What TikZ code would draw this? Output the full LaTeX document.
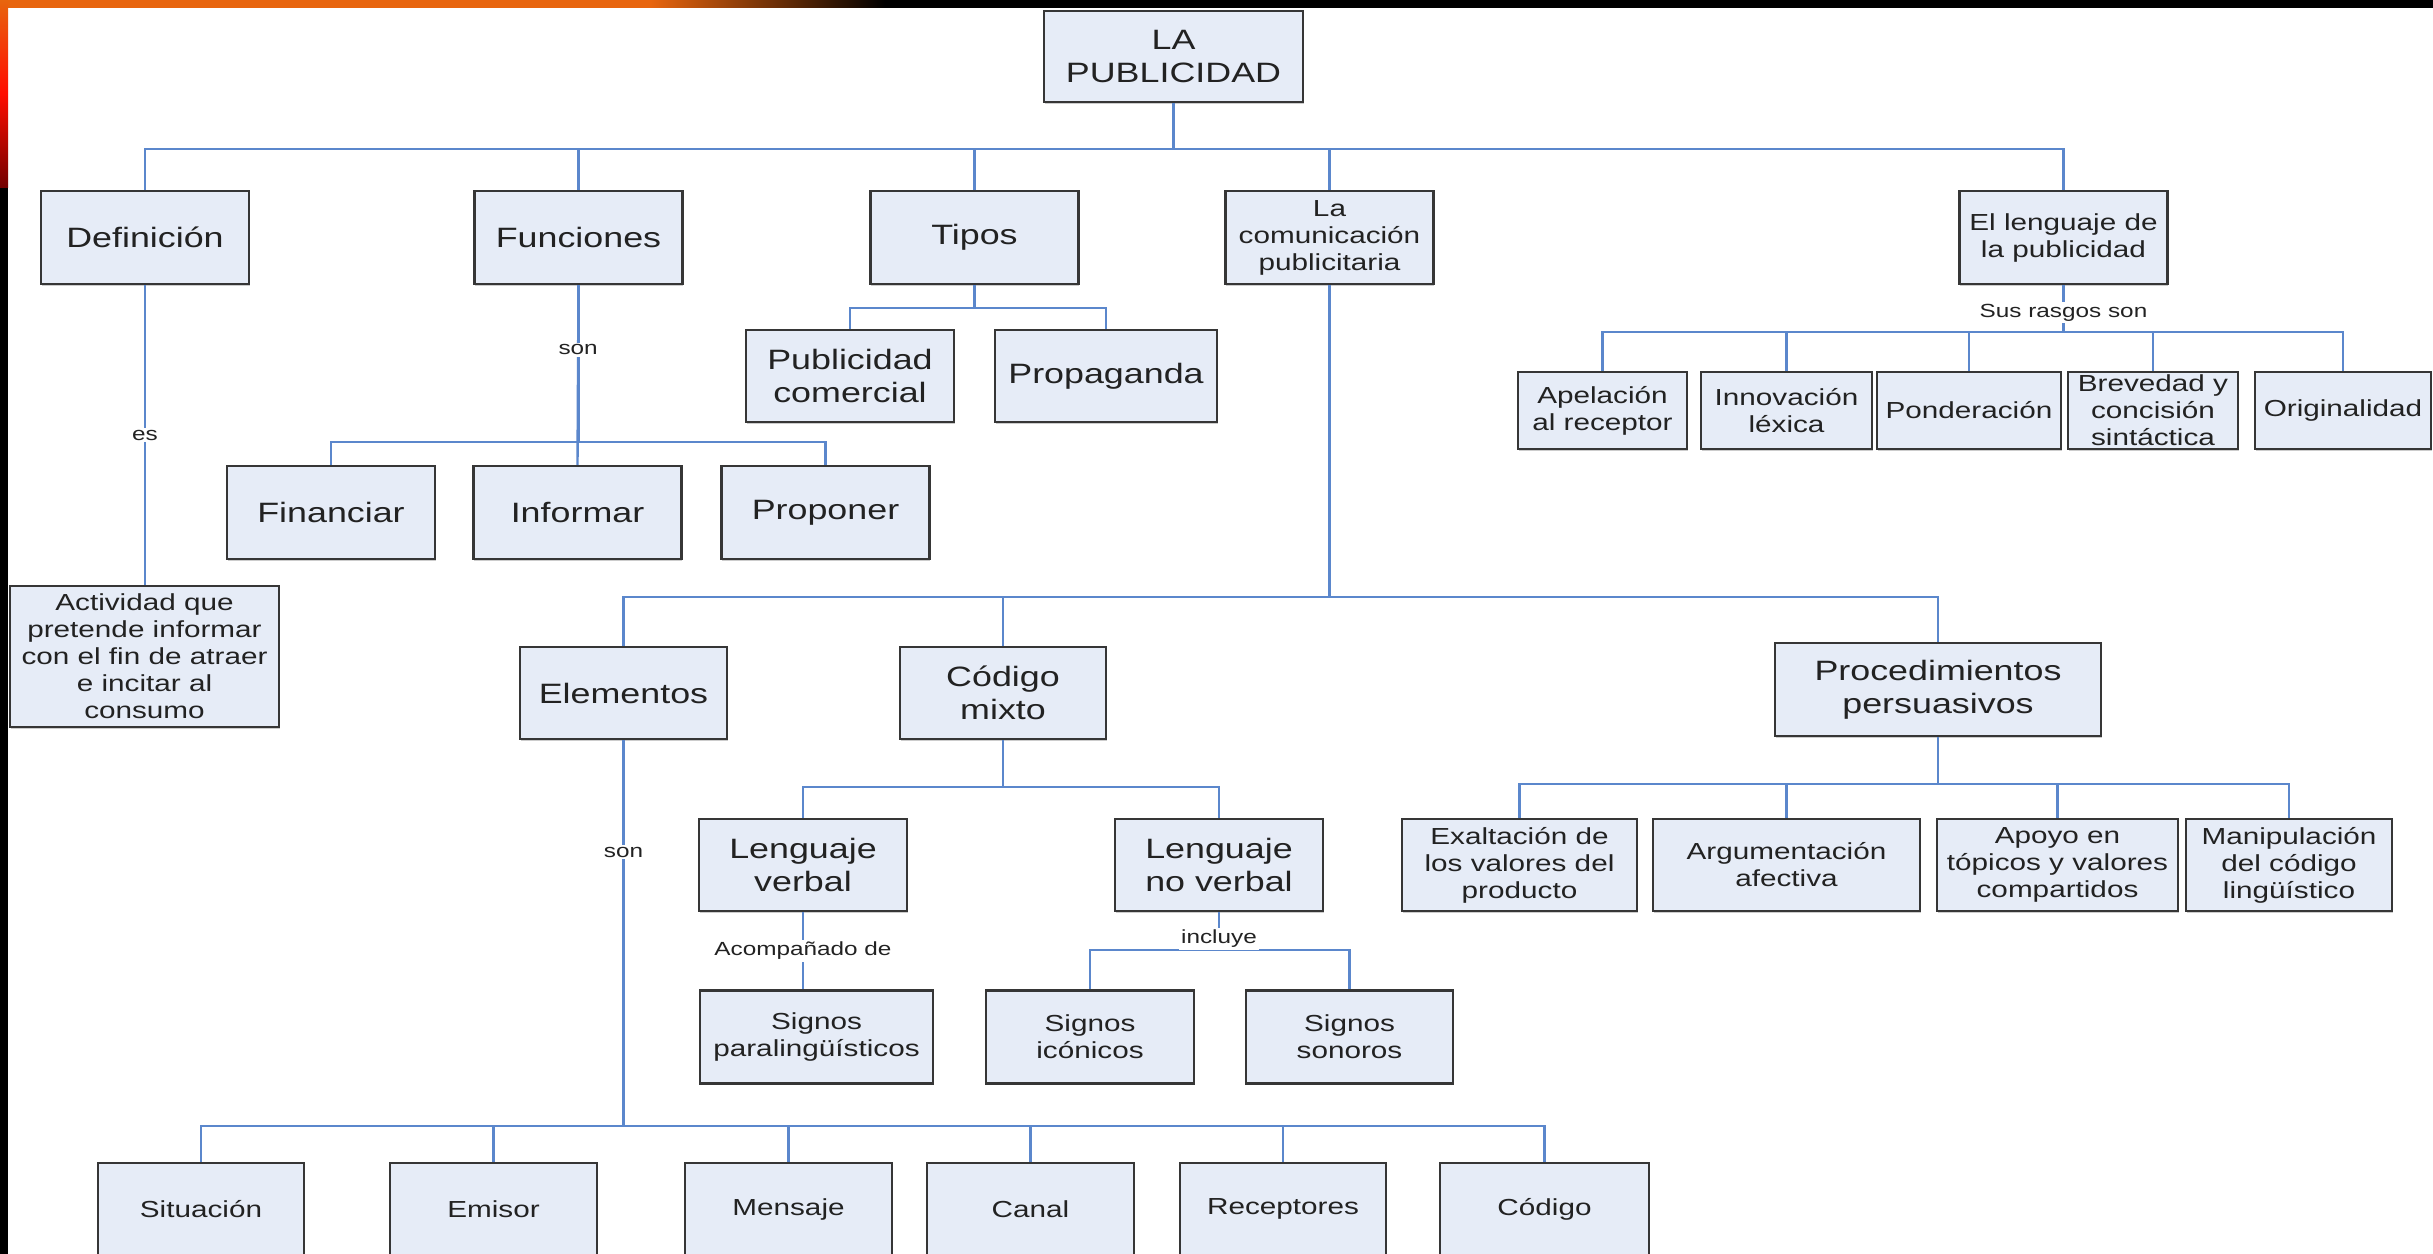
\documentclass[tikz,border=0pt]{standalone}
\usepackage{fontspec}
\setmainfont{Liberation Sans}[FakeStretch=1.28]
\usetikzlibrary{shadows}

\definecolor{relleno}{HTML}{E6ECF7}
\definecolor{borde}{HTML}{363636}
\definecolor{azul}{HTML}{5B87CC}
\definecolor{texto}{HTML}{222222}
\definecolor{naranja}{HTML}{E8650E}

\begin{document}
\begin{tikzpicture}[x=0.5pt, y=-0.5pt,
      caja/.style={draw=borde, fill=relleno, line width=1.2pt, text=texto, align=center, inner sep=1pt,
         drop shadow={shadow xshift=0.4pt, shadow yshift=-0.8pt, opacity=0.4}},
      grande/.style={caja, font=\fontsize{14}{16.5}\selectfont},
      chica/.style={caja, font=\fontsize{11.6}{13.5}\selectfont},
      nivel/.style={minimum width=104pt, minimum height=46.5pt},
      etiqueta/.style={fill=white, inner sep=1pt, text=texto, font=\fontsize{9.5}{11}\selectfont},
      linea/.style={draw=azul, line width=1.2pt}
   ]
      \useasboundingbox (0,0) rectangle (2433,1254);
      % fondo de la diapositiva
      \fill[black] (0,0) rectangle (2433,1254);
      \fill[white] (8,7.5) rectangle (2433,1254);
      \fill[naranja] (0,0) rectangle (650,7.5);
      \shade[left color=naranja, right color=black] (650,0) rectangle (885,7.5);
      \shade[top color=naranja, bottom color=red!45!black, middle color=red!90!orange] (0,0) rectangle (8,187);

      % buses
      \coordinate (b0) at (0,149);
      \coordinate (b1) at (0,308);
      \coordinate (b2) at (0,442);
      \coordinate (b3) at (0,332);
      \coordinate (b4) at (0,597);
      \coordinate (b5) at (0,787);
      \coordinate (b6) at (0,1126);
      \coordinate (b7) at (0,784);
      \coordinate (b8) at (0,950);

      \node[grande, minimum width=129.5pt, minimum height=45.5pt] (pub) at (1173.5,56.5) {LA\\PUBLICIDAD};

      \node[grande, nivel] (def) at (145,237.5) {Definición};
      \node[grande, nivel] (fun) at (578.5,237.5) {Funciones};
      \node[grande, nivel] (tip) at (974.5,237.5) {Tipos};
      \node[chica, nivel] (com) at (1329.5,237.5) {La\\comunicación\\publicitaria};
      \node[chica, nivel] (len) at (2063.5,237.5) {El lenguaje de\\la publicidad};

      \node[grande, minimum width=104pt, minimum height=46pt] (pco) at (850,376) {Publicidad\\comercial};
      \node[grande, minimum width=111pt, minimum height=46pt] (prg) at (1106,376) {Propaganda};

      \node[grande, nivel] (fin) at (331,512.5) {Financiar};
      \node[grande, nivel] (inf) at (577.5,512.5) {Informar};
      \node[grande, nivel] (pro) at (825.5,512.5) {Proponer};

      \node[chica, minimum width=134.5pt, minimum height=70.5pt] (act) at (144.5,656.5)
         {Actividad que\\pretende informar\\con el fin de atraer\\e incitar al\\consumo};

      \node[chica, minimum width=84.5pt, minimum height=38.5pt] (ape) at (1602.5,410.5) {Apelación\\al receptor};
      \node[chica, minimum width=85.5pt, minimum height=38.5pt] (inn) at (1786.5,410.5) {Innovación\\léxica};
      \node[chica, minimum width=92pt, minimum height=38.5pt] (pon) at (1969,410.5) {Ponderación};
      \node[chica, minimum width=85pt, minimum height=38.5pt] (bre) at (2153,410.5) {Brevedad y\\concisión\\sintáctica};
      \node[chica, minimum width=88pt, minimum height=38.5pt] (ori) at (2343,410.5) {Originalidad};

      \node[grande, minimum width=103.5pt, minimum height=46pt] (ele) at (623.5,693) {Elementos};
      \node[grande, minimum width=103pt, minimum height=46pt] (cod) at (1003,693) {Código\\mixto};
      \node[grande, minimum width=163pt, minimum height=46.5pt] (proc) at (1938,689.5) {Procedimientos\\persuasivos};

      \node[chica, minimum width=117.5pt, minimum height=46pt] (exa) at (1519.5,865) {Exaltación de\\los valores del\\producto};
      \node[chica, minimum width=133.5pt, minimum height=46pt] (arg) at (1786.5,865) {Argumentación\\afectiva};
      \node[chica, minimum width=120.5pt, minimum height=46pt] (apo) at (2057.5,865) {Apoyo en\\tópicos y valores\\compartidos};
      \node[chica, minimum width=103pt, minimum height=46pt] (man) at (2289,865) {Manipulación\\del código\\lingüístico};

      \node[grande, minimum width=104pt, minimum height=46pt] (lv) at (803,865) {Lenguaje\\verbal};
      \node[grande, minimum width=104pt, minimum height=46pt] (lnv) at (1219,865) {Lenguaje\\no verbal};

      \node[chica, minimum width=116.5pt, minimum height=46.5pt] (spa) at (816.5,1037) {Signos\\paralingüísticos};
      \node[chica, minimum width=104pt, minimum height=46.5pt] (sic) at (1090,1037) {Signos\\icónicos};
      \node[chica, minimum width=103.5pt, minimum height=46.5pt] (sso) at (1349.5,1037) {Signos\\sonoros};

      \node[chica, minimum width=103pt, minimum height=46pt] (sit) at (201,1209) {Situación};
      \node[chica, minimum width=103.5pt, minimum height=46pt] (emi) at (493.5,1209) {Emisor};
      \node[chica, minimum width=103.5pt, minimum height=46pt] (men) at (788.5,1209) {Mensaje};
      \node[chica, minimum width=103.5pt, minimum height=46pt] (can) at (1030.5,1209) {Canal};
      \node[chica, minimum width=103pt, minimum height=46pt] (rec) at (1283,1209) {Receptores};
      \node[chica, minimum width=104.5pt, minimum height=46pt] (codg) at (1544.5,1209) {Código};

      % conectores
      \foreach \h in {def,fun,tip,com,len}
         \draw[linea] (pub.south) -- (pub.south |- b0) -| (\h.north);
      \foreach \h in {pco,prg}
         \draw[linea] (tip.south) -- (tip.south |- b1) -| (\h.north);
      \draw[linea] (def.south) -- node[etiqueta]{es} (def.south |- act.north);
      \foreach \h in {fin,pro}
         \draw[linea] (fun.south) -- (fun.south |- b2) -| (\h.north);
      \draw[linea] (fun.south) -- node[etiqueta,pos=0.36]{son} (inf.north);
      \foreach \h in {ape,inn,pon,bre,ori}
         \draw[linea] (len.south) -- (len.south |- b3) -| (\h.north);
      \draw[linea] (len.south) -- node[etiqueta,pos=0.58]{Sus rasgos son} (len.south |- b3);
      \foreach \h in {ele,cod,proc}
         \draw[linea] (com.south) -- (com.south |- b4) -| (\h.north);
      \foreach \h in {lv,lnv}
         \draw[linea] (cod.south) -- (cod.south |- b5) -| (\h.north);
      \draw[linea] (lv.south) -- node[etiqueta]{Acompañado de} (lv.south |- spa.north);
      \foreach \h in {sic,sso}
         \draw[linea] (lnv.south) -- (lnv.south |- b8) -| (\h.north);
      \draw[linea] (lnv.south) -- node[etiqueta,pos=0.7]{incluye} (lnv.south |- b8);
      \foreach \h in {exa,arg,apo,man}
         \draw[linea] (proc.south) -- (proc.south |- b7) -| (\h.north);
      \foreach \h in {sit,emi,men,can,rec,codg}
         \draw[linea] (ele.south) -- (ele.south |- b6) -| (\h.north);
      \draw[linea] (ele.south) -- node[etiqueta,pos=0.29]{son} (ele.south |- b6);
   \end{tikzpicture}
\end{document}
